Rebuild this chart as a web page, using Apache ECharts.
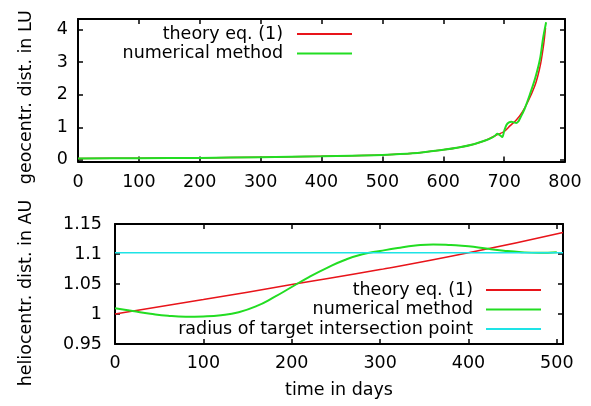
<!DOCTYPE html>
<html>
<head>
<meta charset="utf-8">
<script src="https://cdn.jsdelivr.net/npm/echarts@6.0.0/dist/echarts.min.js"></script>
<style>
  html, body { margin: 0; padding: 0; background: #fff; }
  #chart { width: 591px; height: 406px; }
</style>
</head>
<body>
<div id="chart"></div>
<script>
// upper panel: geocentric distance (LU) vs time (days)
const topTheoryDays = [0, 100, 200, 300, 400, 450, 500, 550, 600, 625, 650, 670, 685, 700, 710, 720, 730, 740, 750, 755, 760, 765, 768];
const topTheoryLU = [0.045, 0.05, 0.06, 0.08, 0.11, 0.13, 0.15, 0.2, 0.31, 0.38, 0.48, 0.6, 0.74, 0.87, 1.05, 1.22, 1.47, 1.82, 2.25, 2.55, 2.95, 3.55, 4.05];
const topNumDays = [0, 100, 200, 300, 400, 450, 500, 550, 600, 625, 650, 670, 680, 685, 689, 693, 697, 700, 704, 708, 712, 716, 720, 723, 726, 730, 734, 742, 751, 759, 764, 769];
const topNumLU = [0.045, 0.05, 0.06, 0.08, 0.11, 0.13, 0.15, 0.2, 0.31, 0.38, 0.48, 0.6, 0.68, 0.74, 0.8, 0.76, 0.7, 0.88, 1.08, 1.15, 1.17, 1.15, 1.13, 1.17, 1.27, 1.42, 1.58, 1.99, 2.5, 3.1, 3.73, 4.22];

// lower panel: heliocentric distance (AU) vs time (days)
const botTheoryDays = [0, 100, 200, 300, 400, 507];
const botTheoryAU = [1.0, 1.024, 1.049, 1.074, 1.102, 1.136];
const botNumDays = [0, 20, 40, 60, 80, 100, 120, 140, 160, 180, 200, 220, 240, 260, 280, 300, 320, 340, 360, 380, 400, 420, 440, 460, 480, 500];
const botNumAU = [1.0095, 1.005, 1.0005, 0.997, 0.9955, 0.996, 0.998, 1.003, 1.013, 1.028, 1.045, 1.062, 1.077, 1.09, 1.0995, 1.105, 1.11, 1.114, 1.116, 1.115, 1.113, 1.109, 1.1055, 1.103, 1.102, 1.103];
const targetDays = [0, 507];
const targetAU = [1.102, 1.102];

// tick labels
const topXTicks = [0, 100, 200, 300, 400, 500, 600, 700, 800];
const topYTicks = [0, 1, 2, 3, 4];
const botXTicks = [0, 100, 200, 300, 400, 500];
const botYTicks = [0.95, 1, 1.05, 1.1, 1.15];

const FONT = 'DejaVu Sans';
const FS = 17.5;
const RED = '#e8141a';
const GREEN = '#22dd22';
const CYAN = '#1ee3e6';

function pairs(xs, ys) {
  return xs.map((x, i) => [x, ys[i]]);
}

function frameAxis(extra, ticks) {
  return Object.assign({
    type: 'value',
    axisLine: { show: true, onZero: false, lineStyle: { color: '#000', width: 2 } },
    axisTick: { show: true, inside: true, length: 5, customValues: ticks, lineStyle: { color: '#000', width: 1.5 } },
    axisLabel: { show: false },
    splitLine: { show: false },
  }, extra);
}

function labels(ticks, margin) {
  return { show: true, customValues: ticks, margin: margin, color: '#000', fontFamily: FONT, fontSize: FS };
}

function legendBox(names, right, top, gap) {
  return {
    data: names.map((name) => ({ name: name, icon: 'rect' })),
    orient: 'vertical', align: 'right', right: right, top: top, padding: 0,
    itemWidth: 55, itemHeight: 2, itemGap: 1.5,
    textStyle: { color: '#000', fontFamily: FONT, fontSize: FS, lineHeight: 18, padding: [0, gap, 0, 0] },
  };
}

const chart = echarts.init(document.getElementById('chart'));

chart.setOption({
  animation: false,
  backgroundColor: '#fff',
  grid: [
    { left: 78, right: 26, top: 19, bottom: 244.5 },
    { left: 115, right: 28, top: 224, bottom: 62 },
  ],
  xAxis: [
    frameAxis({ gridIndex: 0, min: 0, max: 800, axisLabel: labels(topXTicks, 12) }, topXTicks),
    frameAxis({ gridIndex: 0, min: 0, max: 800, position: 'top' }, topXTicks),
    frameAxis({
      gridIndex: 1, min: 0, max: 507, axisLabel: labels(botXTicks, 10),
      name: 'time in days', nameLocation: 'middle', nameGap: 37,
      nameTextStyle: { color: '#000', fontFamily: FONT, fontSize: FS },
    }, botXTicks),
    frameAxis({ gridIndex: 1, min: 0, max: 507, position: 'top' }, botXTicks),
  ],
  yAxis: [
    frameAxis({
      gridIndex: 0, min: -0.05, max: 4.32, axisLabel: labels(topYTicks, 10),
      name: 'geocentr. dist. in LU', nameLocation: 'middle', nameGap: 43, nameRotate: 90,
      nameTextStyle: { color: '#000', fontFamily: FONT, fontSize: FS, padding: [0, 14, 0, 0] },
    }, topYTicks),
    frameAxis({ gridIndex: 0, min: -0.05, max: 4.32, position: 'right' }, topYTicks),
    frameAxis({
      gridIndex: 1, min: 0.95, max: 1.15, axisLabel: labels(botYTicks, 13),
      name: 'heliocentr. dist. in AU', nameLocation: 'middle', nameGap: 80, nameRotate: 90,
      nameTextStyle: { color: '#000', fontFamily: FONT, fontSize: FS, padding: [0, 18, 0, 0] },
    }, botYTicks),
    frameAxis({ gridIndex: 1, min: 0.95, max: 1.15, position: 'right' }, botYTicks),
  ],
  legend: [
    legendBox(['theory eq. (1)', 'numerical method'], 239, 25, 9),
    legendBox(['theory eq. (1)', 'numerical method', 'radius of target intersection point'], 50, 281, 8),
  ],
  series: [
    {
      name: 'theory eq. (1)', type: 'line', xAxisIndex: 0, yAxisIndex: 0,
      symbol: 'none', smooth: 0.3, data: pairs(topTheoryDays, topTheoryLU),
      lineStyle: { color: RED, width: 1.5 }, itemStyle: { color: RED },
    },
    {
      name: 'numerical method', type: 'line', xAxisIndex: 0, yAxisIndex: 0,
      symbol: 'none', smooth: 0.3, data: pairs(topNumDays, topNumLU),
      lineStyle: { color: GREEN, width: 2 }, itemStyle: { color: GREEN },
    },
    {
      name: 'theory eq. (1)', type: 'line', xAxisIndex: 2, yAxisIndex: 2,
      symbol: 'none', smooth: true, data: pairs(botTheoryDays, botTheoryAU),
      lineStyle: { color: RED, width: 1.5 }, itemStyle: { color: RED },
    },
    {
      name: 'numerical method', type: 'line', xAxisIndex: 2, yAxisIndex: 2,
      symbol: 'none', smooth: true, data: pairs(botNumDays, botNumAU),
      lineStyle: { color: GREEN, width: 2 }, itemStyle: { color: GREEN },
    },
    {
      name: 'radius of target intersection point', type: 'line', xAxisIndex: 2, yAxisIndex: 2,
      symbol: 'none', data: pairs(targetDays, targetAU),
      lineStyle: { color: CYAN, width: 1.5 }, itemStyle: { color: CYAN },
    },
  ],
});
</script>
</body>
</html>
